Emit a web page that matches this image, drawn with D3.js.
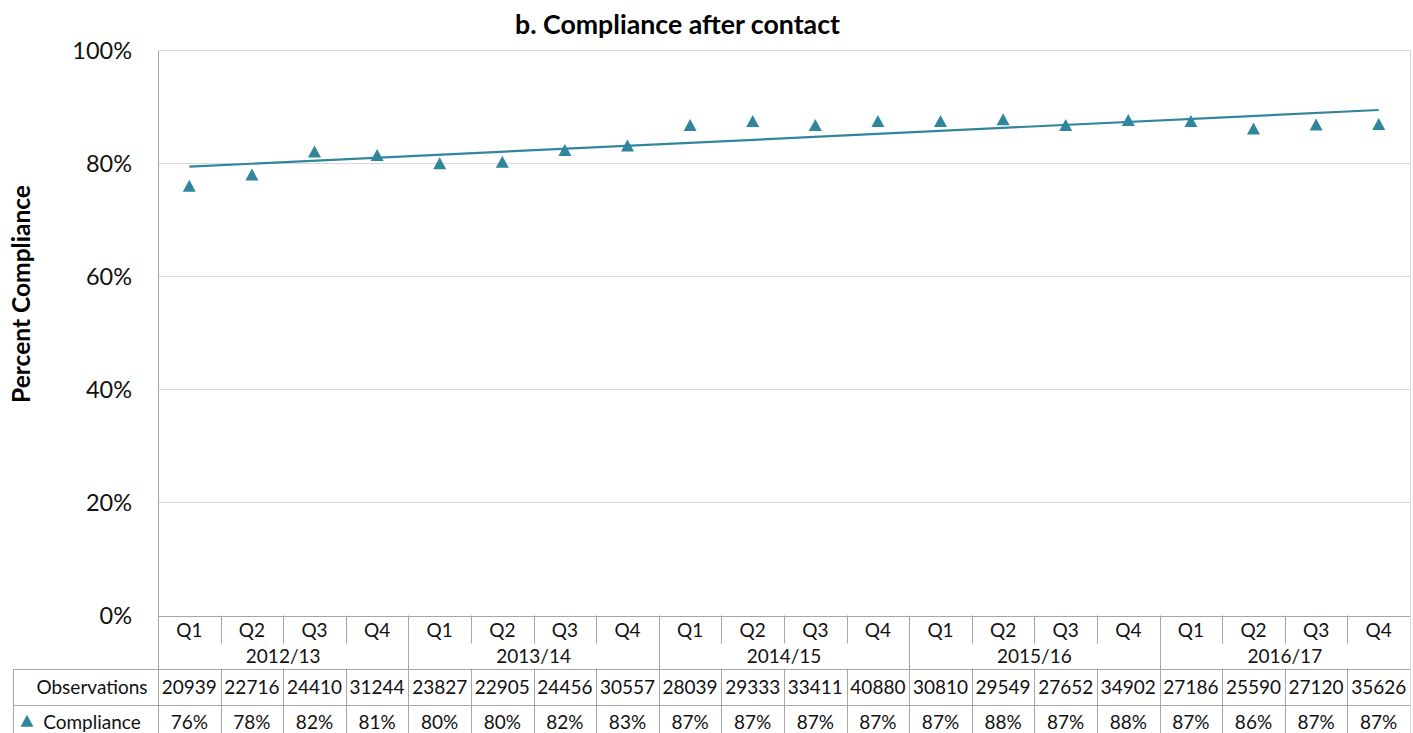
<!DOCTYPE html>
<html>
<head>
<meta charset="utf-8">
<script src="https://cdn.jsdelivr.net/npm/d3@7"></script>
<style>
  html, body { margin: 0; padding: 0; background: #fff; }
  svg { display: block; font-family: Lato, "Open Sans", sans-serif; }
</style>
</head>
<body>
<svg id="chart" width="1413" height="733"></svg>
<script>
// ---- data ----
const years = ["2012/13", "2013/14", "2014/15", "2015/16", "2016/17"];
const quarters = ["Q1", "Q2", "Q3", "Q4"];
const observations = [20939, 22716, 24410, 31244, 23827, 22905, 24456, 30557, 28039, 29333,
                      33411, 40880, 30810, 29549, 27652, 34902, 27186, 25590, 27120, 35626];
const compliance = [75.95, 77.95, 82.0, 81.4, 79.96, 80.2, 82.3, 83.06, 86.7, 87.4,
                    86.7, 87.4, 87.4, 87.7, 86.7, 87.6, 87.4, 86.1, 86.8, 86.9];
const yTicks = [0, 20, 40, 60, 80, 100];
const titleText = "b. Compliance after contact";
const yAxisTitle = "Percent Compliance";
const rowLabels = ["Observations", "Compliance"];

// ---- layout ----
const svg = d3.select("#chart");
const pLeft = 158, pRight = 1410, pTop = 50, pBottom = 615.5;
const tableLeft = 13;
const rowQ = [615.5, 643.5], rowY = [643.5, 668.5], rowObs = [668.5, 704.5], rowComp = [704.5, 740];
const teal = "#31859C";
const gridCol = "#d9d9d9", tableCol = "#a6a6a6", textCol = "#111";

const n = observations.length;
const idx = d3.range(n);
const x = d3.scaleBand().domain(idx).range([pLeft, pRight]).padding(0);
const cx = i => x(i) + x.bandwidth() / 2;
const y = d3.scaleLinear().domain([0, 100]).range([pBottom, pTop]);

function fitFont(sel, target, base) {
  sel.style("font-size", base + "px");
  const w = sel.node().getComputedTextLength();
  sel.style("font-size", (base * target / w).toFixed(2) + "px");
}

// gridlines
svg.append("g").selectAll("line").data(yTicks.filter(t => t > 0)).join("line")
  .attr("x1", pLeft).attr("x2", pRight)
  .attr("y1", d => Math.round(y(d)) + 0.5).attr("y2", d => Math.round(y(d)) + 0.5)
  .attr("stroke", gridCol).attr("stroke-width", 1);

// right border of plot
svg.append("line").attr("x1", pRight + 0.5).attr("x2", pRight + 0.5)
  .attr("y1", pTop).attr("y2", rowComp[1]).attr("stroke", gridCol);

// y tick labels
svg.append("g").selectAll("text").data(yTicks).join("text")
  .attr("x", 132).attr("y", d => y(d) + 8.5)
  .attr("text-anchor", "end")
  .attr("fill", textCol)
  .style("font-size", "23.5px")
  .text(d => d + "%");

// title
const t = svg.append("text").attr("x", 677.5).attr("y", 34.3)
  .attr("text-anchor", "middle").attr("font-weight", "bold").attr("fill", "#000")
  .text(titleText);
fitFont(t, 325, 22);

// y axis title
const yt = svg.append("text")
  .attr("transform", "translate(30,294) rotate(-90)")
  .attr("text-anchor", "middle").attr("font-weight", "bold").attr("fill", "#000")
  .text(yAxisTitle);
fitFont(yt, 218, 23);

// ---- table ----
const tg = svg.append("g");
// horizontal lines
[[pLeft, rowQ[0]], [pLeft, rowY[1]], [tableLeft, rowObs[1]]].forEach(([x0, yy], k) => {
  tg.append("line").attr("x1", k === 0 ? pLeft : tableLeft).attr("x2", pRight)
    .attr("y1", Math.round(yy) + 0.5).attr("y2", Math.round(yy) + 0.5)
    .attr("stroke", tableCol);
});
// left axis line
tg.append("line").attr("x1", pLeft + 0.5).attr("x2", pLeft + 0.5)
  .attr("y1", pTop).attr("y2", rowComp[1]).attr("stroke", tableCol);
// table outer left
tg.append("line").attr("x1", tableLeft + 0.5).attr("x2", tableLeft + 0.5)
  .attr("y1", Math.round(rowY[1])).attr("y2", rowComp[1]).attr("stroke", tableCol);
// column separators
idx.slice(1).forEach(i => {
  const xx = Math.round(x(i)) + 0.5;
  const yearBoundary = i % 4 === 0;
  if (yearBoundary) {
    tg.append("line").attr("x1", xx).attr("x2", xx).attr("y1", rowQ[0]).attr("y2", rowComp[1]).attr("stroke", tableCol);
  } else {
    tg.append("line").attr("x1", xx).attr("x2", xx).attr("y1", rowQ[0]).attr("y2", rowQ[1]).attr("stroke", tableCol);
    tg.append("line").attr("x1", xx).attr("x2", xx).attr("y1", rowY[1]).attr("y2", rowComp[1]).attr("stroke", tableCol);
  }
});
// top plot border
svg.append("line").attr("x1", pLeft).attr("x2", pRight).attr("y1", pTop + 0.5).attr("y2", pTop + 0.5).attr("stroke", gridCol);

const fs = "19px";
// quarter labels
tg.append("g").selectAll("text").data(idx).join("text")
  .attr("x", cx).attr("y", 637).attr("text-anchor", "middle").attr("fill", textCol)
  .style("font-size", fs).text(i => quarters[i % 4]);
// year labels
tg.append("g").selectAll("text").data(years).join("text")
  .attr("x", (d, k) => (x(k * 4) + x(k * 4 + 3) + x.bandwidth()) / 2)
  .attr("y", 663).attr("text-anchor", "middle").attr("fill", textCol)
  .style("font-size", fs).text(d => d);
// observations
tg.append("g").selectAll("text").data(observations).join("text")
  .attr("x", (d, i) => cx(i)).attr("y", 693.5).attr("text-anchor", "middle").attr("fill", textCol)
  .style("font-size", fs).text(d => d);
// compliance
tg.append("g").selectAll("text").data(compliance).join("text")
  .attr("x", (d, i) => cx(i)).attr("y", 728.5).attr("text-anchor", "middle").attr("fill", textCol)
  .style("font-size", fs).text(d => Math.round(d) + "%");
// row labels
tg.append("text").attr("x", 92).attr("y", 693.5).attr("text-anchor", "middle").attr("fill", textCol)
  .style("font-size", fs).text(rowLabels[0]);
tg.append("text").attr("x", 92).attr("y", 728.5).attr("text-anchor", "middle").attr("fill", textCol)
  .style("font-size", fs).text(rowLabels[1]);

// ---- markers & trend ----
const tri = "M0,-6.2L6.5,5.8L-6.5,5.8Z";
// legend key
tg.append("path").attr("d", tri).attr("transform", "translate(27,721)").attr("fill", teal);

// linear trend (least squares)
const mx = d3.mean(idx), my = d3.mean(compliance);
const slope = d3.sum(idx, i => (i - mx) * (compliance[i] - my)) / d3.sum(idx, i => (i - mx) ** 2);
const icpt = my - slope * mx;
const trend = [0, n - 1].map(i => ({ i, v: icpt + slope * i }));
svg.append("path").datum(trend)
  .attr("d", d3.line().x(d => cx(d.i)).y(d => y(d.v)))
  .attr("fill", "none").attr("stroke", teal).attr("stroke-width", 2.2);

svg.append("g").selectAll("path").data(compliance).join("path")
  .attr("d", tri)
  .attr("transform", (d, i) => `translate(${cx(i)},${y(d)})`)
  .attr("fill", teal);
</script>
</body>
</html>
